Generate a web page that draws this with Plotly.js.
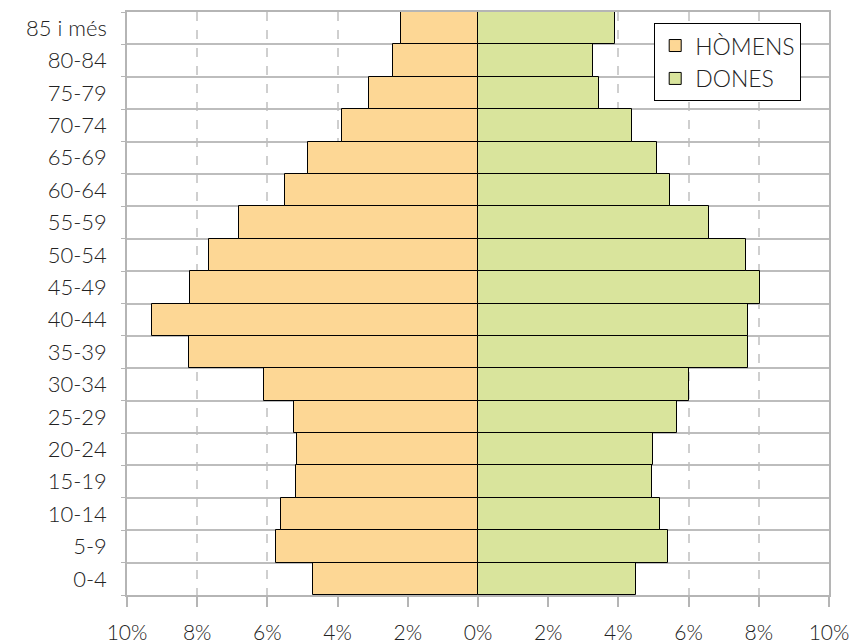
<!DOCTYPE html>
<html>
<head>
<meta charset="utf-8">
<script src="https://cdn.plot.ly/plotly-3.0.1.min.js"></script>
<style>html,body{margin:0;padding:0;background:#fff;}#chart{width:856px;height:643px;}</style>
</head>
<body>
<div id="chart"></div>
<script>
var ageGroups = ["0-4","5-9","10-14","15-19","20-24","25-29","30-34","35-39","40-44","45-49","50-54","55-59","60-64","65-69","70-74","75-79","80-84","85 i més"];
var homens = [4.69,5.75,5.60,5.19,5.16,5.25,6.10,8.23,9.28,8.20,7.66,6.82,5.49,4.83,3.88,3.10,2.41,2.19];
var dones  = [4.49,5.42,5.19,4.95,4.98,5.68,6.02,7.70,7.68,8.04,7.64,6.59,5.48,5.11,4.39,3.46,3.29,3.90];
var xTickVals = [-10,-8,-6,-4,-2,0,2,4,6,8,10];
var xTickText = ["10%","8%","6%","4%","2%","0%","2%","4%","6%","8%","10%"];

var fontFam = "Lato, 'Open Sans', sans-serif";

var traces = [
  {
    type: "bar", orientation: "h", name: "HÒMENS",
    y: ageGroups, x: homens.map(function(v){return -v;}),
    customdata: homens,
    hovertemplate: "%{y}: %{customdata}%<extra>HÒMENS</extra>",
    marker: {color: "#FDD795", line: {color: "#000", width: 1}}
  },
  {
    type: "bar", orientation: "h", name: "DONES",
    y: ageGroups, x: dones,
    hovertemplate: "%{y}: %{x}%<extra>DONES</extra>",
    marker: {color: "#D9E49C", line: {color: "#000", width: 1}}
  }
];

var layout = {
  width: 856, height: 643,
  margin: {l: 127, r: 27, t: 12, b: 48},
  paper_bgcolor: "#fff", plot_bgcolor: "#fff",
  barmode: "relative", bargap: 0,
  font: {family: fontFam, color: "#222", size: 20, weight: 300},
  xaxis: {
    range: [-10, 10], tickvals: xTickVals, ticktext: xTickText,
    showgrid: true, gridcolor: "#cfcfcf", griddash: "dash", gridwidth: 1.5,
    zeroline: false,
    showline: true, linecolor: "#b5b5b5", linewidth: 1.5, mirror: true,
    ticks: "outside", ticklen: 10, tickcolor: "#b5b5b5", tickwidth: 1.5,
    tickfont: {family: fontFam, size: 21, color: "#222", weight: 300},
    ticklabelstandoff: 8,
    fixedrange: true
  },
  yaxis: {
    type: "category", categoryorder: "array", categoryarray: ageGroups,
    tickson: "boundaries",
    showgrid: true, gridcolor: "#bdbdbd", gridwidth: 1.5,
    showline: true, linecolor: "#b5b5b5", linewidth: 1.5, mirror: true,
    ticks: "outside", ticklen: 4, tickcolor: "#b5b5b5",
    tickfont: {family: fontFam, size: 22, color: "#222", weight: 300},
    ticklabelstandoff: 14,
    fixedrange: true
  },
  legend: {
    x: 0.751, y: 0.981, xanchor: "left", yanchor: "top",
    bgcolor: "#fff", bordercolor: "#000", borderwidth: 1,
    font: {family: fontFam, size: 23, color: "#222", weight: 300},
    traceorder: "normal", tracegroupgap: 6,
    itemwidth: 30
  },
  showlegend: true
};

Plotly.newPlot("chart", traces, layout, {displayModeBar: false, staticPlot: false});
</script>
</body>
</html>
